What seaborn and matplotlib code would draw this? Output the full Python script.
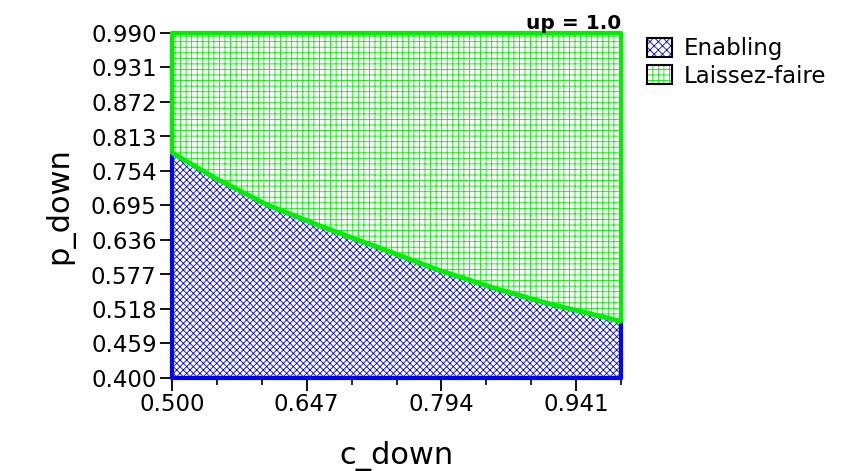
import numpy as np
import pandas as pd
import matplotlib
matplotlib.use("Agg")
import matplotlib.pyplot as plt
import seaborn as sns
from matplotlib.patches import Patch
from matplotlib.legend_handler import HandlerTuple

# Data
c_down = [0.500, 0.547, 0.604, 0.665, 0.741, 0.790, 0.851, 0.909, 0.990]
p_boundary = [0.785, 0.742, 0.696, 0.658, 0.614, 0.585, 0.554, 0.528, 0.497]
x_ticks = [0.500, 0.647, 0.794, 0.941]
y_ticks = [0.400, 0.459, 0.518, 0.577, 0.636, 0.695, 0.754, 0.813, 0.872, 0.931, 0.990]
series = ["Enabling", "Laissez-faire"]
title = "up = 1.0"

sns.set_style("white")
plt.rcParams["font.family"] = ["DejaVu Sans"]
plt.rcParams["hatch.linewidth"] = 0.6
plt.rcParams["text.color"] = "black"
plt.rcParams["axes.labelcolor"] = "black"

df = pd.DataFrame({"c_down": c_down, "p_down": p_boundary})

fig = plt.figure(figsize=(8.58, 4.71), dpi=100)
ax = fig.add_axes([172 / 858, 93 / 471, 449 / 858, 345 / 471])

x = np.array(c_down)
yb = np.array(p_boundary)
ylo, yhi = y_ticks[0], y_ticks[-1]

blue = "#0000ff"
green = "#00ee00"

ax.fill_between(x, ylo, yb, facecolor="white", edgecolor=blue, hatch="xxxxx",
                linewidth=0, zorder=1)
ax.fill_between(x, yb, yhi, facecolor="white", edgecolor=green, hatch="+++",
                linewidth=0, zorder=1)

# region borders
ax.plot([x[0], x[0]], [ylo, yb[0]], color=blue, lw=3, zorder=3, clip_on=False)
ax.plot([x[-1], x[-1]], [ylo, yb[-1]], color=blue, lw=3, zorder=3, clip_on=False)
ax.plot([x[0], x[-1]], [ylo, ylo], color=blue, lw=3, zorder=3, clip_on=False)
ax.plot([x[0], x[0]], [yb[0], yhi], color=green, lw=3, zorder=3, clip_on=False)
ax.plot([x[-1], x[-1]], [yb[-1], yhi], color=green, lw=3, zorder=3, clip_on=False)
ax.plot([x[0], x[-1]], [yhi, yhi], color=green, lw=3, zorder=3, clip_on=False)

sns.lineplot(data=df, x="c_down", y="p_down", ax=ax, color=green, lw=3.5,
             zorder=4, legend=False)

ax.set_xlim(0.5, 0.99)
ax.set_ylim(ylo, yhi)
ax.set_xticks(x_ticks)
ax.set_xticklabels([f"{v:.3f}" for v in x_ticks])
ax.set_xticks(np.arange(0.5, 0.99 + 1e-9, 0.049), minor=True)
ax.set_yticks(y_ticks)
ax.set_yticklabels([f"{v:.3f}" for v in y_ticks])

for s in ax.spines.values():
    s.set_color("black")
    s.set_linewidth(1.2)
    s.set_zorder(2)

ax.tick_params(axis="both", which="major", direction="out", length=9, width=1.3,
               color="black", labelsize=16.5, labelcolor="black", pad=2,
               bottom=True, left=True)
ax.tick_params(axis="x", which="minor", direction="out", length=5, width=1.2,
               color="black", bottom=True)

ax.set_xlabel("c_down", fontsize=22, labelpad=18)
ax.set_ylabel("p_down", fontsize=22, labelpad=12)
ax.set_title(title, loc="right", fontsize=14.5, fontweight="bold", pad=1)

handles = [
    (Patch(facecolor="white", edgecolor=blue, hatch="xxxx", linewidth=0),
     Patch(facecolor="none", edgecolor="black", linewidth=1.5)),
    (Patch(facecolor="white", edgecolor=green, hatch="+++", linewidth=0),
     Patch(facecolor="none", edgecolor="black", linewidth=1.5)),
]
leg = fig.legend(handles, series, loc="upper left",
                 bbox_to_anchor=(638 / 858, 1 - 28 / 471),
                 handler_map={tuple: HandlerTuple(ndivide=1, pad=0)},
                 frameon=False, fontsize=16.5, handlelength=1.1, handleheight=0.9,
                 handletextpad=0.5, labelspacing=0.2, borderaxespad=0)

fig.savefig("out.png", dpi=100)
